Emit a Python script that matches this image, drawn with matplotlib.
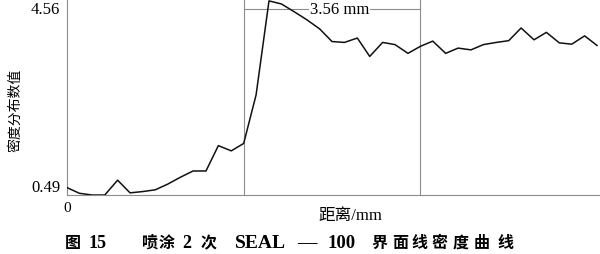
import matplotlib
matplotlib.use("Agg")
import matplotlib.pyplot as plt

plt.rcParams["font.family"] = ["Liberation Serif", "Noto Sans CJK SC", "DejaVu Sans"]

# 距离 (mm) 与 密度分布数值
distance = [0.00, 0.25, 0.51, 0.76, 1.02, 1.27, 1.53, 1.78, 2.03, 2.29,
            2.54, 2.80, 3.05, 3.31, 3.56, 3.81, 4.07, 4.32, 4.58, 4.83,
            5.09, 5.34, 5.59, 5.85, 6.10, 6.36, 6.61, 6.87, 7.12, 7.37,
            7.63, 7.88, 8.14, 8.39, 8.65, 8.90, 9.15, 9.41, 9.66, 9.92,
            10.17, 10.43, 10.68]
density = [0.43, 0.30, 0.26, 0.26, 0.60, 0.31, 0.34, 0.38, 0.51, 0.67,
           0.81, 0.81, 1.39, 1.27, 1.44, 2.55, 4.70, 4.63, 4.45, 4.27,
           4.06, 3.77, 3.75, 3.85, 3.43, 3.75, 3.70, 3.50, 3.66, 3.78,
           3.50, 3.62, 3.58, 3.70, 3.75, 3.79, 4.08, 3.81, 3.98, 3.74,
           3.71, 3.90, 3.68]
ytick_vals = [0.49, 4.56]
ytick_labels = ["0.49", "4.56"]
marks = [3.56, 7.12]          # 两条竖线
span_label = "3.56 mm"

# 图题分段 (文字, 中心 x 像素, 字号) —— 原图字距很宽,逐段摆放
caption = [("图", 73, 11.5), ("15", 98, 13), ("喷", 150, 11.5),
           ("涂", 167, 11.5), ("2", 187, 13), ("次", 209, 11.5),
           ("SEAL", 260, 14), ("—", 307, 14), ("100", 342, 13.5),
           ("界", 379, 11.5), ("面", 400, 11.5), ("线", 419, 11.5),
           ("密", 440, 11.5), ("度", 461, 11.5), ("曲", 482, 11.5),
           ("线", 505, 11.5)]

SPINE = "#8c8c8c"

fig = plt.figure(figsize=(6.0, 2.55), dpi=100)
ax = fig.add_axes([67/600, 1 - 196/255, 535/600, 196/255])

ax.plot(distance, density, color="#111111", lw=1.1, zorder=3)

for xm in marks:
    ax.axvline(xm, color=SPINE, lw=0.8, zorder=1)

# 3.56 mm 标注横线
y_span = 4.51
ax.plot(marks, [y_span, y_span], color=SPINE, lw=0.8, zorder=1)
ax.text(5.50, y_span, span_label, ha="center", va="center", fontsize=12,
        bbox=dict(boxstyle="square,pad=0.05", fc="white", ec="none"), zorder=2)

ax.set_xlim(0, 10.78)
ax.set_ylim(0.261, 4.743)
ax.set_yticks(ytick_vals)
ax.set_yticklabels(ytick_labels, fontsize=12)
ax.set_xticks([0])
ax.set_xticklabels(["0"], fontsize=11)
ax.tick_params(axis="y", length=0, pad=5)
ax.tick_params(axis="x", length=0, pad=4)

for side in ["top", "right"]:
    ax.spines[side].set_visible(False)
for side in ["left", "bottom"]:
    ax.spines[side].set_color(SPINE)
    ax.spines[side].set_linewidth(0.8)

fig.text(15/600, 1 - 110/255, "密度分布数值", rotation=90, ha="center",
         va="center", fontsize=10, family=["Noto Sans CJK SC"])
fig.text(350/600, 1 - 216/255, "距离/mm", ha="center", va="center",
         fontsize=12)
for txt, xc, fs in caption:
    fig.text(xc/600, 1 - 244/255, txt, ha="center", va="center",
             fontsize=fs, fontweight="bold")

fig.savefig("out.png", dpi=100)
